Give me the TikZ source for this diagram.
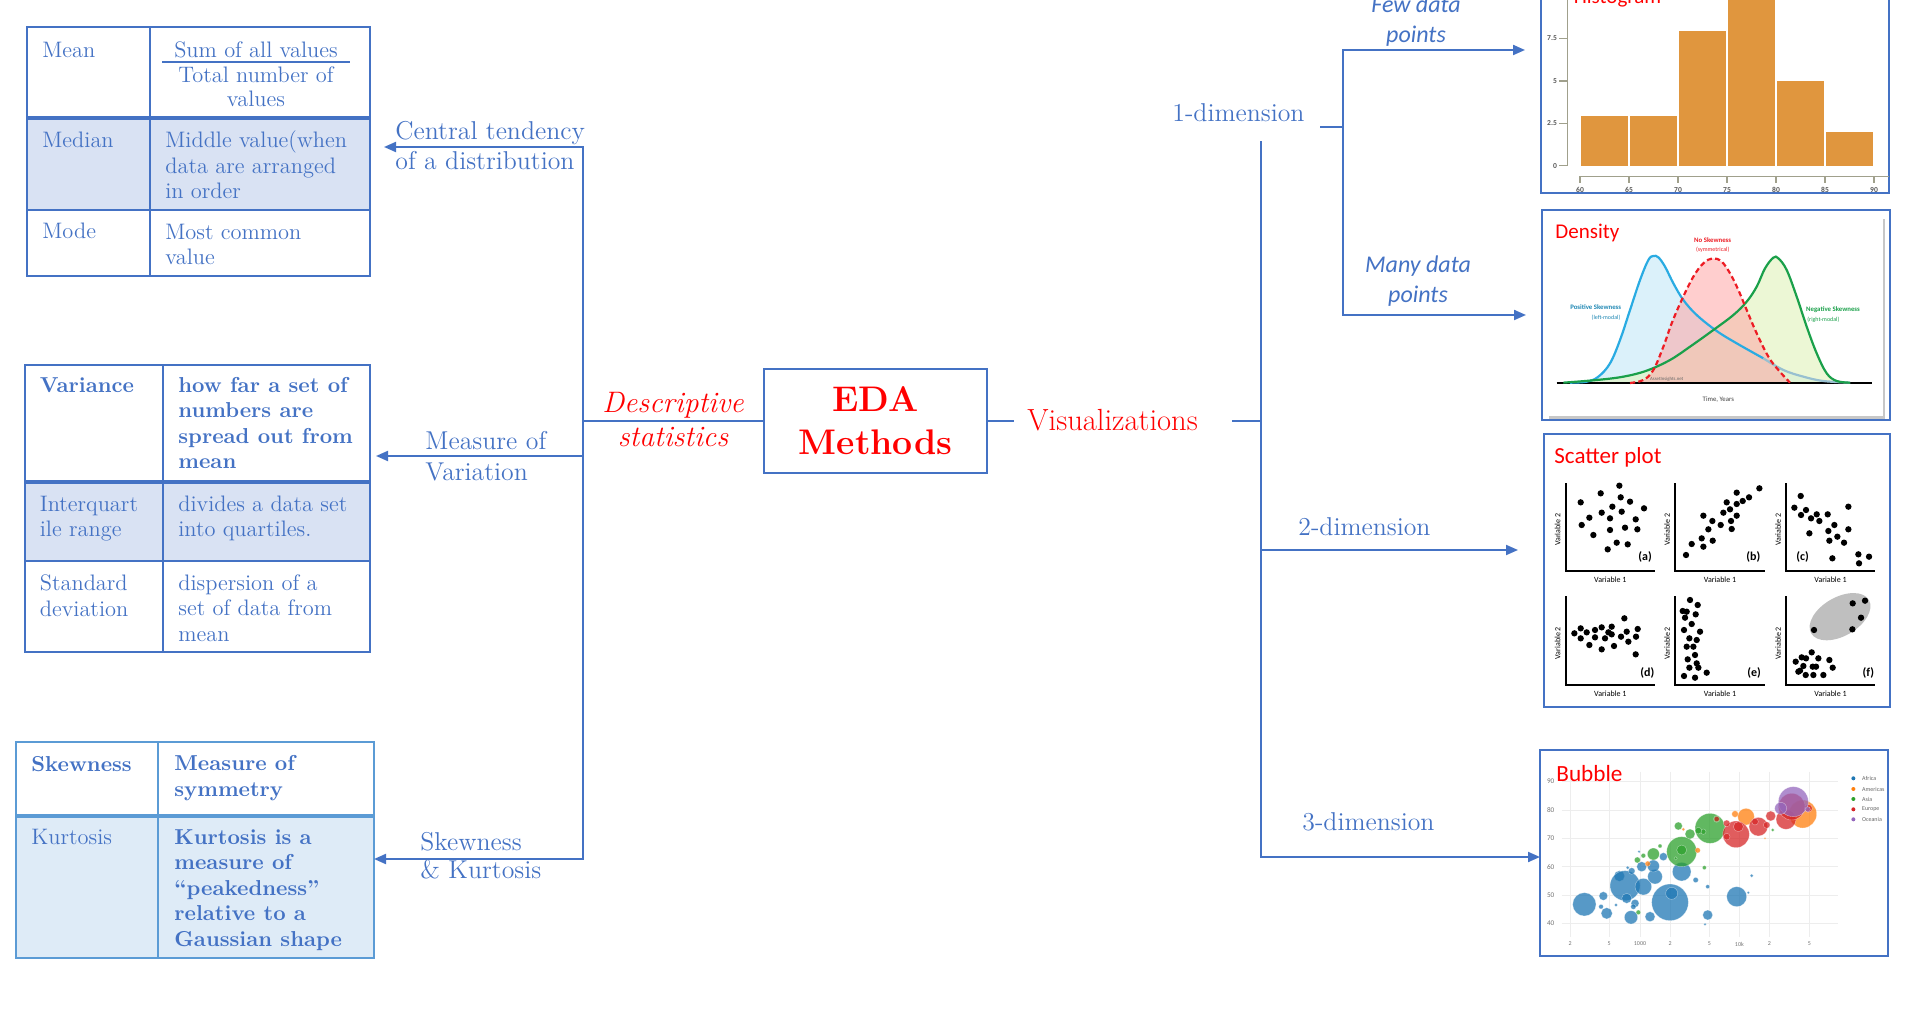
\documentclass[tikz,border=0pt]{standalone}
\usepackage{fontspec}
\newfontfamily\calibri{Carlito}
\usetikzlibrary{arrows.meta}
\definecolor{ob}{HTML}{4472C4}
\definecolor{lbl}{HTML}{5B9BD5}
\definecolor{shA}{HTML}{D9E2F3}
\definecolor{shC}{HTML}{DEEBF7}
\definecolor{hist}{RGB}{224,150,62}
\definecolor{axc}{RGB}{160,160,140}
\definecolor{cblue}{RGB}{41,171,226}
\definecolor{cgreen}{RGB}{26,160,74}
\definecolor{cred}{RGB}{237,28,36}
\definecolor{bAf}{RGB}{31,119,180}
\definecolor{bAm}{RGB}{255,127,14}
\definecolor{bAs}{RGB}{44,160,44}
\definecolor{bEu}{RGB}{214,39,40}
\definecolor{bOc}{RGB}{148,103,189}
\begin{document}
\begin{tikzpicture}[x=0.5pt,y=-0.5pt,
 conn/.style={draw=ob, line width=1pt, line cap=rect},
 arr/.style={draw=ob, line width=1pt, -{Triangle[length=6pt,width=5pt]}},
 tline/.style={draw=ob, line width=1pt},
 thk/.style={draw=ob, line width=2pt},
 cellr/.style={text=ob, inner sep=0pt, anchor=base west, align=left, font=\fontsize{11.2}{12.75}\selectfont},
 cellb/.style={cellr, font=\fontsize{10.8}{12.75}\selectfont\bfseries},
 blab/.style={text=ob, inner sep=0pt, anchor=base west, align=left, font=\fontsize{12.9}{15}\selectfont},
 clab/.style={text=ob, inner sep=0pt, anchor=base, align=center, font=\calibri\itshape\fontsize{12}{15}\selectfont},
 ctitle/.style={text=red, inner sep=0pt, anchor=base west, font=\calibri\fontsize{11}{13}\selectfont},
 cbox/.style={draw=ob, line width=1pt},
 tinyt/.style={inner sep=0pt, font=\calibri\fontsize{3.6}{4}\selectfont},
]
\useasboundingbox (0,0) rectangle (1930,1020);

% (multi-line nodes are placed at the baseline of their LAST line)
% ---------------- Table 1 : central tendency
\fill[shA] (27,118) rectangle (370,210);
\draw[tline] (27,27) rectangle (370,276);
\draw[tline] (150,27) -- (150,276);
\draw[thk] (27,118) -- (370,118);
\draw[tline] (27,210) -- (370,210);
\node[cellr] (mean) at (42,58) {Mean};
\node[cellr, anchor=base, align=center, font=\fontsize{11.2}{12.25}\selectfont] (meanf) at (256,107) {Sum of all values\\Total number of\\values};
\draw[tline] (162,62) -- (350,62);
\node[cellr] (median) at (42,148) {Median};
\node[cellr] (mediand) at (165,199) {Middle value(when\\data are arranged\\in order};
\node[cellr] (mode) at (42,239) {Mode};
\node[cellr] (moded) at (165,265) {Most common\\value};

% ---------------- Table 2 : variation
\fill[shA] (24.5,482) rectangle (370,561);
\draw[tline] (24.5,365) rectangle (370,652);
\draw[tline] (163,365) -- (163,652);
\draw[thk] (24.5,482) -- (370,482);
\draw[tline] (24.5,561) -- (370,561);
\node[cellb] (var) at (39.5,393) {Variance};
\node[cellb] (vard) at (178,469) {how far a set of\\numbers are\\spread out from\\mean};
\node[cellr] (iqr) at (39.5,537) {Interquart\\ile range};
\node[cellr] (iqrd) at (178,537) {divides a data set\\into quartiles.};
\node[cellr] (sd) at (39.5,616) {Standard\\deviation};
\node[cellr] (sdd) at (178,641) {dispersion of a\\set of data from\\mean};

% ---------------- Table 3 : skewness
\fill[shC] (16,816) rectangle (374,958);
\draw[draw=lbl, line width=1pt] (16,742) rectangle (374,958);
\draw[draw=lbl, line width=1pt] (158,742) -- (158,958);
\draw[draw=lbl, line width=2pt] (16,816) -- (374,816);
\node[cellb] (skw) at (31,771) {Skewness};
\node[cellb] (skwd) at (174,796) {Measure of\\symmetry};
\node[cellr] (kur) at (31,844) {Kurtosis};
\node[cellb] (kurd) at (174,946) {Kurtosis is a\\measure of\\``peakedness''\\relative to a\\Gaussian shape};

% ---------------- centre
\node[draw=ob, line width=1pt, minimum width=111.5pt, minimum height=52pt, inner sep=0pt,
      text=red, align=center, font=\fontsize{17.8}{21.5}\selectfont\bfseries] (eda) at (875.5,421) {EDA\\Methods};
\node[text=red, inner sep=0pt, anchor=base, align=center, font=\fontsize{14.8}{17}\selectfont\itshape] (desc) at (673,447) {Descriptive\\statistics};
\node[text=red, inner sep=0pt, anchor=base west, font=\fontsize{15.3}{18}\selectfont] (viz) at (1027,431) {Visualizations};

% left labels
\node[blab] (ctl) at (395,170) {Central tendency\\of a distribution};
\node[blab, font=\fontsize{12.9}{15.5}\selectfont] (mvl) at (425,481) {Measure of\\Variation};
\node[blab, font=\fontsize{12.9}{14}\selectfont] (skl) at (420,878) {Skewness\\\& Kurtosis};

% left connectors
\coordinate (lt) at (583,147);
\coordinate (lc) at (583,421);
\coordinate (lm) at (583,456);
\coordinate (lb) at (583,859);
\coordinate (t1) at (384,147);
\coordinate (t2) at (376,456);
\coordinate (t3) at (374,859);
\draw[conn] (lt) -- (lb);
\draw[arr] (lt) -- (t1);
\draw[arr] (lm) -- (t2);
\draw[arr] (lb) -- (t3);
\draw[conn] (lc) -- (eda.west);

% right labels
\node[blab] (d1) at (1172,122) {1-dimension};
\node[blab] (d2) at (1298,536) {2-dimension};
\node[blab] (d3) at (1302,830) {3-dimension};
\node[clab] (few) at (1416,43) {Few data\\points};
\node[clab] (many) at (1418,303) {Many data\\points};

% right connectors
\coordinate (vz1) at (1013,421);
\coordinate (vz2) at (1233,421);
\coordinate (rc) at (1261,421);
\coordinate (rt) at (1261,142);
\coordinate (r2) at (1261,550);
\coordinate (r3) at (1261,857);
\coordinate (h2) at (1518,550);
\coordinate (h3) at (1540,857);
\draw[conn] (eda.east) -- (vz1);
\draw[conn] (vz2) -- (rc);
\draw[conn] (rt) -- (r3);
\draw[arr] (r2) -- (h2);
\draw[arr] (r3) -- (h3);
\coordinate (s1) at (1321,127);
\coordinate (s2) at (1343,127);
\coordinate (f1) at (1343,50);
\coordinate (f2) at (1343,315);
\coordinate (fa) at (1525,50);
\coordinate (fb) at (1526,315);
\draw[conn] (s1) -- (s2);
\draw[conn] (f1) -- (f2);
\draw[arr] (f1) -- (fa);
\draw[arr] (f2) -- (fb);

% ---------------- Histogram
\begin{scope}
\clip (1530,0) rectangle (1900,200);
\draw[cbox] (1541,-5) -- (1541,193) -- (1889,193) -- (1889,-5);
\begin{scope}[shift={(1530,0)}, x=0.1666667pt, y=-0.1666667pt]
 \foreach \a/\t in {150/347, 297/347, 444/92, 591/-40, 738/243, 885/397}{
   \fill[hist] (\a+3,497) rectangle (\a+144,\t);
 }
 \draw[axc, line width=0.8pt] (112,-20) -- (112,497);
 \foreach \yy in {115,243,370,497}{ \draw[axc, line width=0.6pt] (88,\yy) -- (112,\yy); }
 \draw[axc, line width=0.8pt] (148,530) -- (1078,530);
 \foreach \k/\lab in {0/60,1/65,2/70,3/75,4/80,5/85,6/90}{
   \draw[axc, line width=0.6pt] (150+147*\k,530) -- (150+147*\k,550);
   \node[tinyt, font=\calibri\bfseries\fontsize{3.8}{4}\selectfont, text=black!65] (hx\k) at (150+147*\k,570) {\lab};
 }
 \node[tinyt, font=\calibri\bfseries\fontsize{3.8}{4}\selectfont, text=black!65, anchor=east] (hy1) at (82,115) {7.5};
 \node[tinyt, font=\calibri\bfseries\fontsize{3.8}{4}\selectfont, text=black!65, anchor=east] (hy2) at (82,243) {5};
 \node[tinyt, font=\calibri\bfseries\fontsize{3.8}{4}\selectfont, text=black!65, anchor=east] (hy3) at (82,370) {2.5};
 \node[tinyt, font=\calibri\bfseries\fontsize{3.8}{4}\selectfont, text=black!65, anchor=east] (hy4) at (82,497) {0};
 \node[ctitle, font=\calibri\fontsize{10.5}{12}\selectfont] (histt) at (130,12) {Histogram};
\end{scope}
\end{scope}

% ---------------- Density
\draw[cbox] (1542,210) rectangle (1890,420);
\begin{scope}[shift={(1530,200)}, x=0.1666667pt, y=-0.1666667pt]
 \fill[black!22] (56,56) rectangle (1066,656);
 \fill[white] (48,48) rectangle (1060,648);
 \fill[cblue!22, fill opacity=0.75] plot[smooth, tension=0.6] coordinates {(120,548) (170,545) (205,530) (240,490) (270,420) (300,330) (330,240) (355,180) (370,168) (385,172) (405,200) (430,250) (460,300) (500,345) (560,393) (620,430) (700,475) (760,510) (820,530) (880,543) (960,548)} -- cycle;
 \fill[yellow!55!green!25, fill opacity=0.65] plot[smooth, tension=0.6] coordinates {(100,548) (200,540) (280,530) (350,512) (420,480) (480,440) (550,390) (610,345) (650,305) (680,260) (705,205) (730,173) (745,175) (770,210) (800,290) (830,380) (860,460) (890,520) (920,543) (960,548)} -- cycle;
 \fill[red!35, fill opacity=0.55] plot[smooth, tension=0.6] coordinates {(300,549) (340,540) (370,510) (400,440) (425,370) (455,300) (490,230) (520,190) (548,175) (575,185) (600,220) (625,270) (650,330) (680,400) (715,470) (745,510) (780,548)} -- cycle;
 \draw[black, line width=0.9pt] (80,548) -- (1025,548);
 \draw[cblue, line width=1.1pt] plot[smooth, tension=0.6] coordinates {(120,548) (170,545) (205,530) (240,490) (270,420) (300,330) (330,240) (355,180) (370,168) (385,172) (405,200) (430,250) (460,300) (500,345) (560,393) (620,430) (700,475)};
 \draw[cblue!50!gray!60, line width=1.1pt] plot[smooth, tension=0.6] coordinates {(700,475) (760,510) (820,530) (880,543) (960,548)};
 \draw[cgreen, line width=1.1pt] plot[smooth, tension=0.6] coordinates {(100,548) (200,540) (280,530) (350,512) (420,480) (480,440) (550,390) (610,345) (650,305) (680,260) (705,205) (730,173) (745,175) (770,210) (800,290) (830,380) (860,460) (890,520) (920,543) (960,548)};
 \draw[cred, line width=1.1pt, dash pattern=on 2.6pt off 1.6pt] plot[smooth, tension=0.6] coordinates {(300,549) (340,540) (370,510) (400,440) (425,370) (455,300) (490,230) (520,190) (548,175) (575,185) (600,220) (625,270) (650,330) (680,400) (715,470) (745,510) (780,548)};
 \node[ctitle, font=\calibri\fontsize{10.5}{12}\selectfont] (dent) at (75,117) {Density};
 \node[tinyt, text=cred, font=\calibri\bfseries\fontsize{3.4}{4}\selectfont] (nsk) at (548,120) {No Skewness};
 \node[tinyt, text=cred, font=\calibri\fontsize{3}{4}\selectfont] (nsk2) at (548,150) {(symmetrical)};
 \node[tinyt, text=cblue!80!black, font=\calibri\bfseries\fontsize{3.4}{4}\selectfont] (psk) at (197,322) {Positive Skewness};
 \node[tinyt, text=cblue!80!black, font=\calibri\fontsize{3}{4}\selectfont] (psk2) at (228,352) {(left-modal)};
 \node[tinyt, text=cgreen, font=\calibri\bfseries\fontsize{3.4}{4}\selectfont] (ngk) at (909,328) {Negative Skewness};
 \node[tinyt, text=cgreen, font=\calibri\fontsize{3}{4}\selectfont] (ngk2) at (880,358) {(right-modal)};
 \node[tinyt, text=black!75, font=\calibri\fontsize{3.4}{4}\selectfont] (tyr) at (565,598) {Time, Years};
 \node[tinyt, text=black!60, font=\calibri\fontsize{2.4}{3}\selectfont] (ain) at (410,538) {AssetInsights.net};
\end{scope}

% ---------------- Scatter plot
\draw[cbox] (1544,434) rectangle (1890,707);
\begin{scope}[shift={(1530,420)}, x=0.1666667pt, y=-0.1666667pt]
 \node[ctitle, font=\calibri\fontsize{11.5}{13}\selectfont] (sct) at (72,130) {Scatter plot};
 \foreach \ax/\ay/\bx/\by/\i in {107/190/375/452/1, 435/190/705/452/2, 768/190/1035/452/3, 107/528/375/795/4, 435/528/705/795/5, 768/528/1035/795/6}{
   \draw[black, line width=1.1pt] (\ax,\ay) -- (\ax,\by) -- (\bx,\by);
   \node[tinyt, font=\calibri\fontsize{4}{5}\selectfont] (v1\i) at ({(\ax+\bx)/2},\by+26) {Variable 1};
   \node[tinyt, font=\calibri\fontsize{4}{5}\selectfont, rotate=90] (v2\i) at (\ax-24,{(\ay+\by)/2+8}) {Variable 2};
 }
 \foreach \p/\q in {152/247,212/220,268/197,272/232,300/245,342/265,178/293,155/315,215/278,247/260,275/275,240/295,317/298,322/328,285/323,240/330,190/345,260/368,293/373,233/388,
   468/405,485/372,520/380,515/355,548/362,535/328,520/287,547/303,572/315,580/278,590/247,600/268,603/303,605/327,620/287,620/218,620/252,638/243,657/232,688/205,
   812/228,793/263,813/285,828/270,843/295,860/283,868/303,893/283,838/340,895/333,913/315,955/260,955/328,898/362,922/350,942/368,907/415,985/403,1017/410,987/430,
   133/640,152/625,152/655,170/637,178/675,195/630,195/652,215/622,215/688,225/655,235/637,245/620,245/643,252/678,273/650,283/595,290/635,295/665,318/650,323/627,317/703,
   480/540,503/555,458/573,470/575,497/583,465/593,485/612,462/630,510/635,478/655,500/660,470/680,490/680,495/705,473/718,500/730,478/743,505/743,462/768,495/773,530/758}{
   \fill[black] (\p,\q) circle[radius=9.5];
 }
 \fill[black!25, rotate around={30:(930,590)}] (930,590) ellipse [x radius=100, y radius=58];
 \foreach \p/\q in {852/630,968/550,1005/542,993/593,967/628,797/725,815/712,845/697,828/715,865/715,898/720,820/738,848/740,810/752,858/740,908/743,805/755,827/765,850/765,880/765}{
   \fill[black] (\p,\q) circle[radius=9.5];
 }
 \foreach \lx/\ly/\lt/\j in {345/412/(a)/1, 670/412/(b)/2, 818/412/(c)/3, 352/760/(d)/4, 672/760/(e)/5, 1015/760/(f)/6}{
   \node[tinyt, font=\calibri\bfseries\fontsize{6}{7}\selectfont] (pl\j) at (\lx,\ly) {\lt};
 }
\end{scope}

% ---------------- Bubble
\draw[cbox] (1540,750) rectangle (1888,956);
\begin{scope}[shift={(1530,740)}, x=0.1666667pt, y=-0.1666667pt]
 \foreach \gy in {125,210,296,380,465,550}{ \draw[black!7, line width=0.5pt] (95,\gy) -- (925,\gy); }
 \foreach \gx in {120,237,330,420,538,628,718,838}{ \draw[black!7, line width=0.5pt] (\gx,95) -- (\gx,590); }
 \foreach \gy/\gl in {125/90,210/80,296/70,380/60,465/50,550/40}{ \node[tinyt, text=black!55] (by\gl) at (62,\gy) {\gl}; }
 \foreach \gx/\gl/\k in {120/2/1,237/5/2,330/1000/3,420/2/4,538/5/5,628/10k/6,718/2/7,838/5/8}{ \node[tinyt, text=black!55, font=\calibri\fontsize{3}{4}\selectfont] (bx\k) at (\gx,612) {\gl}; }
 \foreach \p/\q/\r in {163/493/35,220/468/13,230/520/17,213/500/7,268/408/16,285/437/45,340/440/25,375/410/22,360/530/15,303/532/20,420/487/55,425/460/18,455/395/28,497/420/8,533/525/15,533/440/6,620/470/30,665/407/5,655/458/4,370/378/18,335/380/15,305/393/10,290/475/15,315/490/12,400/350/12,525/553/4,258/495/5,293/383/5,327/335/4,310/500/8}{
   \fill[bAf, fill opacity=0.75] (\p,\q) circle[radius=\r];
   \draw[white, opacity=0.5, line width=0.2pt] (\p,\q) circle[radius=\r];
 }
 \foreach \p/\q/\r in {540/265/45,455/335/45,480/282/15,445/258/12,370/342/18,322/360/9,340/347/7,390/318/6,520/275/8,560/237/10,523/383/6,325/517/7,505/272/10,455/330/15,728/270/5,437/355/5}{
   \fill[bAs, fill opacity=0.75] (\p,\q) circle[radius=\r];
   \draw[white, opacity=0.5, line width=0.2pt] (\p,\q) circle[radius=\r];
 }
 \foreach \p/\q/\r in {648/230/25,818/222/42,353/371/8,460/268/5,615/222/10,503/331/8,705/295/3}{
   \fill[bAm, fill opacity=0.75] (\p,\q) circle[radius=\r];
   \draw[white, opacity=0.5, line width=0.2pt] (\p,\q) circle[radius=\r];
 }
 \foreach \p/\q/\r in {618/283/40,685/260/28,710/255/10,722/228/15,768/238/30,785/200/40,560/237/8,590/250/10,625/260/15,675/245/10,835/205/12,590/290/10}{
   \fill[bEu, fill opacity=0.75] (\p,\q) circle[radius=\r];
   \draw[white, opacity=0.5, line width=0.2pt] (\p,\q) circle[radius=\r];
 }
 \foreach \p/\q/\r in {790/185/45,752/205/18,833/208/8}{
   \fill[bOc, fill opacity=0.75] (\p,\q) circle[radius=\r];
   \draw[white, opacity=0.5, line width=0.2pt] (\p,\q) circle[radius=\r];
 }
 \foreach \ly/\lc/\lt/\k in {115/bAf/Africa/1,147/bAm/Americas/2,177/bAs/Asia/3,208/bEu/Europe/4,238/bOc/Oceania/5}{
   \fill[\lc] (970,\ly) circle[radius=6];
   \node[tinyt, text=black!60, anchor=west, font=\calibri\fontsize{3}{4}\selectfont] (lg\k) at (995,\ly) {\lt};
 }
 \node[ctitle, font=\calibri\fontsize{11.6}{13}\selectfont] (bubt) at (78,125) {Bubble};
\end{scope}

\end{tikzpicture}
\end{document}
